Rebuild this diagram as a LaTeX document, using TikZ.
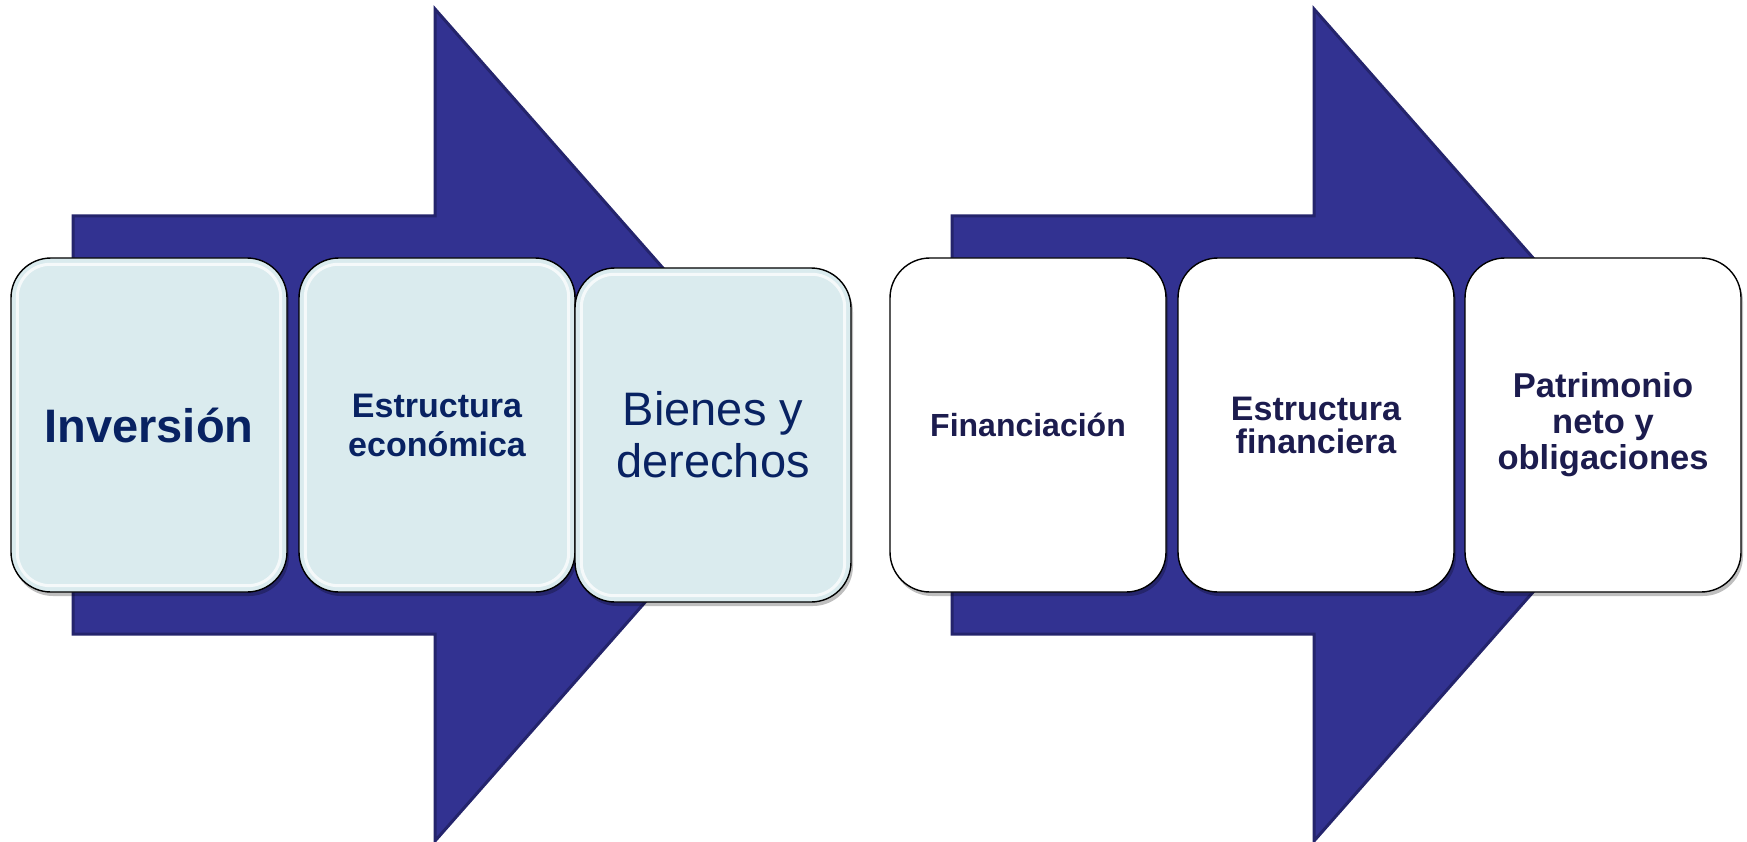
\documentclass[tikz,border=0pt]{standalone}
\usepackage{fontspec}
\setmainfont{Liberation Sans}
\usetikzlibrary{shadows,calc}
\definecolor{arrowfill}{RGB}{50,50,145}
\definecolor{arrowline}{RGB}{36,36,108}
\definecolor{paleblue}{RGB}{218,235,238}
\definecolor{navyA}{RGB}{8,34,98}
\definecolor{navyB}{RGB}{28,28,78}
\tikzset{
  bigarrow/.style={fill=arrowfill, draw=arrowline, line width=3pt, line join=miter},
  card/.style={draw=black, line width=1.4pt, rounded corners=40pt,
    minimum width=276pt, minimum height=334pt, inner sep=0pt, align=center,
    drop shadow={shadow xshift=2pt, shadow yshift=-4pt, opacity=0.25, fill=black}},
  bluecard/.style={card, fill=paleblue, text=navyA},
  whitecard/.style={card, fill=white, text=navyB},
  gloss/.style={draw=white, line width=3pt, opacity=0.75, rounded corners=33pt}
}
\begin{document}
\begin{tikzpicture}[x=1pt, y=-1pt]
\useasboundingbox (0,0) rectangle (1747,842);
% arrows
\draw[bigarrow] (73,216) -- (435,216) -- (435,9) -- (801,425) -- (435,841) -- (435,634) -- (73,634) -- cycle;
\draw[bigarrow] (952,216) -- (1314,216) -- (1314,9) -- (1680,425) -- (1314,841) -- (1314,634) -- (952,634) -- cycle;
% left cards
\node[bluecard, font=\fontsize{47}{52}\selectfont\bfseries] (b1) at (149,425) {Inversión};
\node[bluecard, font=\fontsize{34}{39}\selectfont\bfseries] (b2) at (437,425) {Estructura\\ económica};
\node[bluecard, font=\fontsize{47}{52}\selectfont] (b3) at (713,435) {Bienes y\\ derechos};
\foreach \b in {b1,b2,b3}{
  \draw[gloss] ($(\b.south west)+(7,-7)$) rectangle ($(\b.north east)+(-7,7)$);
}
% right cards
\node[whitecard, font=\fontsize{32}{36}\selectfont\bfseries] (w1) at (1028,425) {Financiación};
\node[whitecard, font=\fontsize{34}{33}\selectfont\bfseries] (w2) at (1316,425) {Estructura\\ financiera};
\node[whitecard, font=\fontsize{34.5}{36}\selectfont\bfseries] (w3) at (1603,425) {Patrimonio\\ neto y\\ obligaciones};
\end{tikzpicture}
\end{document}
